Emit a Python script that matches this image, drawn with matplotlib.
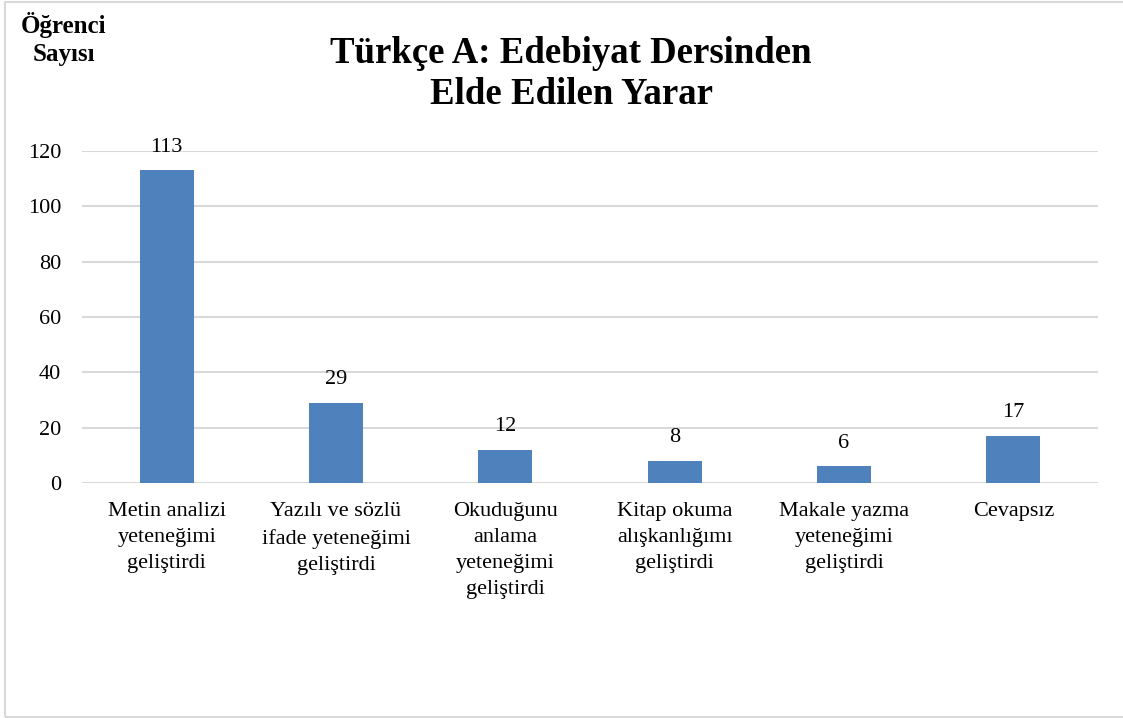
import matplotlib
matplotlib.use("Agg")
import matplotlib.pyplot as plt
from matplotlib.patches import Rectangle

categories = [
    "Metin analizi\nyeteneğimi\ngeliştirdi",
    "Yazılı ve sözlü\nifade yeteneğimi\ngeliştirdi",
    "Okuduğunu\nanlama\nyeteneğimi\ngeliştirdi",
    "Kitap okuma\nalışkanlığımı\ngeliştirdi",
    "Makale yazma\nyeteneğimi\ngeliştirdi",
    "Cevapsız",
]
values = [113, 29, 12, 8, 6, 17]
yticks = [0, 20, 40, 60, 80, 100, 120]
title = "Türkçe A: Edebiyat Dersinden\nElde Edilen Yarar"
ylabel = "Öğrenci\nSayısı"

plt.rcParams['font.family'] = ['Liberation Serif', 'DejaVu Serif']

W, H = 1123, 718
fig = plt.figure(figsize=(W / 100, H / 100), dpi=100)
ax = fig.add_axes([82 / W, 1 - 483 / H, (1098 - 82) / W, (483 - 151) / H])

x = list(range(len(categories)))
bars = ax.bar(x, values, width=0.32, color="#4f81bd", zorder=3)
ax.set_xlim(-0.5, len(categories) - 0.5)
ax.set_ylim(0, 120)
ax.set_yticks(yticks)
ax.set_yticklabels([str(v) for v in yticks])
ax.set_xticks(x)
ax.set_xticklabels(categories, linespacing=1.5)
ax.tick_params(axis='y', length=0, pad=15, labelsize=16)
ax.tick_params(axis='x', length=0, pad=14, labelsize=16)
ax.grid(axis='y', color="#d9d9d9", linewidth=1.5, zorder=0)
for s in ax.spines.values():
    s.set_visible(False)

for xi, v in zip(x, values):
    ax.annotate(str(v), (xi, v), xytext=(0, 13.5), textcoords='offset points',
                ha='center', va='baseline', fontsize=16)

fig.text(571 / W, 1 - 104.5 / H, title, ha='center', va='baseline',
         fontsize=26.5, fontweight='bold', linespacing=1.25)
fig.text(64 / W, 1 - 61 / H, ylabel, ha='center', va='baseline',
         fontsize=18, fontweight='bold', linespacing=1.3)

fig.patches.append(Rectangle((5 / W, 1 - 716.5 / H), (1130 - 5) / W, (716.5 - 1.5) / H,
                             transform=fig.transFigure, fill=False,
                             edgecolor="#d9d9d9", linewidth=1.5))

fig.savefig("out.png", dpi=100)
